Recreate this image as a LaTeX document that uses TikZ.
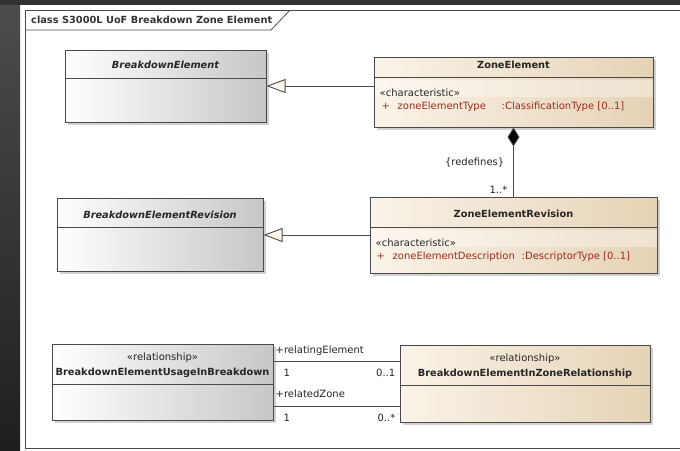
\documentclass[tikz,border=0pt]{standalone}
\usepackage{fontspec}
\usetikzlibrary{arrows.meta,calc,shadows}
\newfontfamily\umlfont{DejaVu Sans}

\definecolor{umlline}{HTML}{4A4A4A}
\definecolor{beigeL}{HTML}{FAF3E8}
\definecolor{beigeM}{HTML}{F3E7D5}
\definecolor{beigeR}{HTML}{E6D3B6}
\definecolor{attrred}{HTML}{9E2A1E}
\definecolor{tipfill}{HTML}{FFF6EA}

\tikzset{
  box/.style={draw=umlline, line width=1pt, rectangle, inner sep=0pt,
    drop shadow={shadow xshift=3pt, shadow yshift=-3pt, fill=black!40, opacity=0.45}},
  greybox/.style={box, left color=white, middle color=black!4, right color=black!22},
  beigebox/.style={box, left color=beigeL, middle color=beigeM, right color=beigeR},
  divider/.style={draw=umlline, line width=1pt},
  conn/.style={draw=umlline, line width=0.9pt},
  gen/.style={conn, -{Triangle[length=19pt, width=14pt, fill=tipfill]}},
  comp/.style={conn, {Diamond[length=19pt, width=12pt, fill=black]}-},
  clsname/.style={font=\umlfont\bfseries\fontsize{9.8}{11}\selectfont, inner sep=0pt, text=black!85},
  absname/.style={font=\umlfont\bfseries\itshape\fontsize{9.8}{11}\selectfont, inner sep=0pt, text=black!85},
  plain/.style={font=\umlfont\fontsize{10}{11}\selectfont, inner sep=0pt, text=black!85},
  attr/.style={font=\umlfont\fontsize{10}{11}\selectfont, inner sep=0pt, text=attrred},
}

\begin{document}
\begin{tikzpicture}[x=1pt, y=-1pt]
\clip (0,0) rectangle (680,450);
% canvas and dark surround
\fill[white] (0,0) rectangle (680,450);
\shade[top color=black!70, bottom color=black!88] (0,0) rectangle (20,450);
\fill[black!80] (0,0) rectangle (680,5);

% diagram frame with its title tab
\draw[umlline, line width=1pt] (700,10) -- (25,10) -- (25,448) -- (700,448);
\draw[umlline, line width=0.8pt] (25,30) -- (271,30) -- (290,10);
\node[clsname, anchor=west, text=black!80] (frametitle) at (31,20) {class S3000L UoF Breakdown Zone Element};

% classes
\node[greybox, minimum width=201pt, minimum height=72pt] (be) at (165.5,86) {};
\node[beigebox, minimum width=279pt, minimum height=70pt] (ze) at (513.5,92) {};
\node[beigebox, minimum width=287pt, minimum height=76pt] (zer) at (513.5,235) {};
\node[greybox, minimum width=206pt, minimum height=73pt] (ber) at (160,234.5) {};
\node[greybox, minimum width=221pt, minimum height=76pt] (beu) at (162.5,382) {};
\node[beigebox, minimum width=250pt, minimum height=77pt] (bez) at (525,383.5) {};

% compartment dividers
\draw[divider] ($(be.north west)+(0,29)$) -- ($(be.north east)+(0,29)$);
\draw[divider] ($(ze.north west)+(0,21)$) -- ($(ze.north east)+(0,21)$);
\draw[divider] ($(zer.north west)+(0,31)$) -- ($(zer.north east)+(0,31)$);
\draw[divider] ($(ber.north west)+(0,30)$) -- ($(ber.north east)+(0,30)$);
\draw[divider] ($(beu.north west)+(0,41)$) -- ($(beu.north east)+(0,41)$);
\draw[divider] ($(bez.north west)+(0,41)$) -- ($(bez.north east)+(0,41)$);

% light band behind the attribute rows
\fill[white, opacity=0.35] ($(ze.north west)+(1,23)$) rectangle ($(ze.north east)+(-1,40)$);
\fill[white, opacity=0.35] ($(zer.north west)+(1,33)$) rectangle ($(zer.north east)+(-1,50)$);

% class names
\node[absname] (beT) at ($(be.north)+(0,15)$) {BreakdownElement};
\node[clsname] (zeT) at ($(ze.north)+(0,8)$) {ZoneElement};
\node[clsname] (zerT) at ($(zer.north)+(0,17)$) {ZoneElementRevision};
\node[absname] (berT) at ($(ber.north)+(0,17)$) {BreakdownElementRevision};
\node[plain] (beuS) at ($(beu.north)+(0,14)$) {«relationship»};
\node[clsname] (beuT) at ($(beu.north)+(0,29)$) {BreakdownElementUsageInBreakdown};
\node[plain] (bezS) at ($(bez.north)+(0,14)$) {«relationship»};
\node[clsname] (bezT) at ($(bez.north)+(0,29)$) {BreakdownElementInZoneRelationship};

% attributes
\node[plain, anchor=west] (zeSt) at ($(ze.north west)+(6,36)$) {«characteristic»};
\node[attr, anchor=west] (zeP) at ($(ze.north west)+(8,50)$) {+};
\node[attr, anchor=west] (zeA) at ($(ze.north west)+(24,50)$) {zoneElementType};
\node[attr, anchor=west] (zeB) at ($(ze.north west)+(128,50)$) {:ClassificationType [0..1]};
\node[plain, anchor=west] (zerSt) at ($(zer.north west)+(6,46)$) {«characteristic»};
\node[attr, anchor=west] (zerP) at ($(zer.north west)+(7,60)$) {+};
\node[attr, anchor=west] (zerA) at ($(zer.north west)+(23,60)$) {zoneElementDescription};
\node[attr, anchor=west] (zerB) at ($(zer.north west)+(152,60)$) {:DescriptorType [0..1]};

% generalizations
\draw[gen] (be.east -| ze.west) -- (be.east);
\draw[gen] (zer.west) -- (zer.west -| ber.east);

% composition with its end labels
\draw[comp] (ze.south) -- (zer.north);
\node[plain, anchor=east] (redef) at ($(zer.north)+(-9,-34)$) {\{redefines\}};
\node[plain, anchor=east] (mult) at ($(zer.north)+(-6,-7)$) {1..*};

% associations between the relationship classes
\path (beu.north east) ++(0,18) coordinate (r1);
\path (beu.north east) ++(0,63) coordinate (r2);
\draw[conn] (r1) -- (r1 -| bez.west);
\draw[conn] (r2) -- (r2 -| bez.west);
\node[plain, anchor=west] (r1role) at ($(r1)+(2,-11)$) {+relatingElement};
\node[plain, anchor=west] (r1m) at ($(r1)+(10,11)$) {1};
\node[plain, anchor=east] (r1n) at ($(r1 -| bez.west)+(-4,11)$) {0..1};
\node[plain, anchor=west] (r2role) at ($(r2)+(2,-13)$) {+relatedZone};
\node[plain, anchor=west] (r2m) at ($(r2)+(10,11)$) {1};
\node[plain, anchor=east] (r2n) at ($(r2 -| bez.west)+(-4,11)$) {0..*};
\end{tikzpicture}
\end{document}
